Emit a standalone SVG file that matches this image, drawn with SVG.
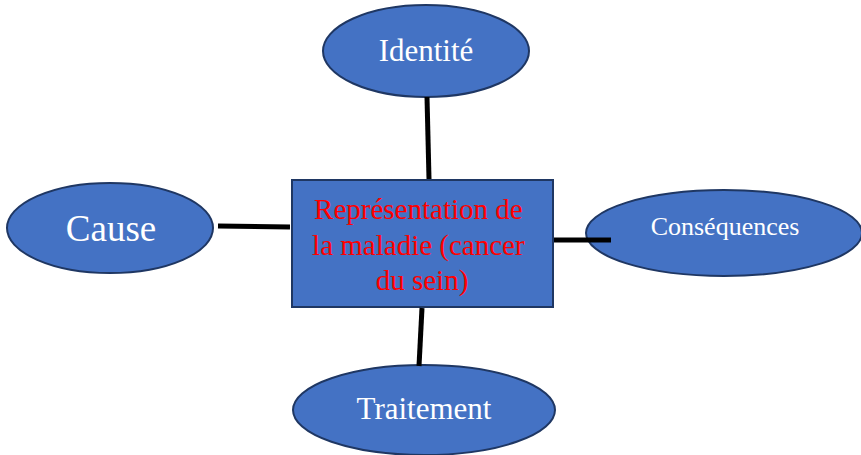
<svg xmlns="http://www.w3.org/2000/svg" width="861" height="455" viewBox="0 0 861 455">
<style>
.n{fill:#4472C4;stroke:#1F3763;stroke-width:2}
.t{font-family:"Liberation Serif",serif;fill:#fff;text-anchor:middle}
.c{stroke:#000;stroke-width:5;fill:none}
</style>
<rect width="861" height="455" fill="#fff"/>
<g id="identite">
<ellipse class="n" cx="426" cy="51" rx="103" ry="46"/>
<text class="t" x="426" y="61" font-size="31">Identité</text>
</g>
<g id="cause">
<ellipse class="n" cx="110" cy="228" rx="103" ry="45"/>
<text class="t" x="111" y="241" font-size="37">Cause</text>
</g>
<g id="consequences">
<ellipse class="n" cx="724" cy="233" rx="138" ry="43"/>
<text class="t" x="725" y="235" font-size="26">Conséquences</text>
</g>
<g id="traitement">
<ellipse class="n" cx="424" cy="410" rx="131" ry="45"/>
<text class="t" x="424" y="419" font-size="31">Traitement</text>
</g>
<g id="representation">
<rect class="n" x="292" y="180" width="261" height="127"/>
<text x="422" y="219" font-size="29" font-family="Liberation Serif,serif" fill="#FF0000" text-anchor="middle">
<tspan x="422" y="219">Représentation de</tspan>
<tspan x="422" y="255">la maladie (cancer</tspan>
<tspan x="422" y="290">du sein)</tspan>
</text>
</g>
<g id="connectors">
<line class="c" x1="427" y1="97" x2="429" y2="179"/>
<line class="c" x1="218" y1="226" x2="290" y2="227"/>
<line class="c" x1="554" y1="240" x2="611" y2="240"/>
<line class="c" x1="422" y1="308" x2="419" y2="366"/>
</g>
</svg>
